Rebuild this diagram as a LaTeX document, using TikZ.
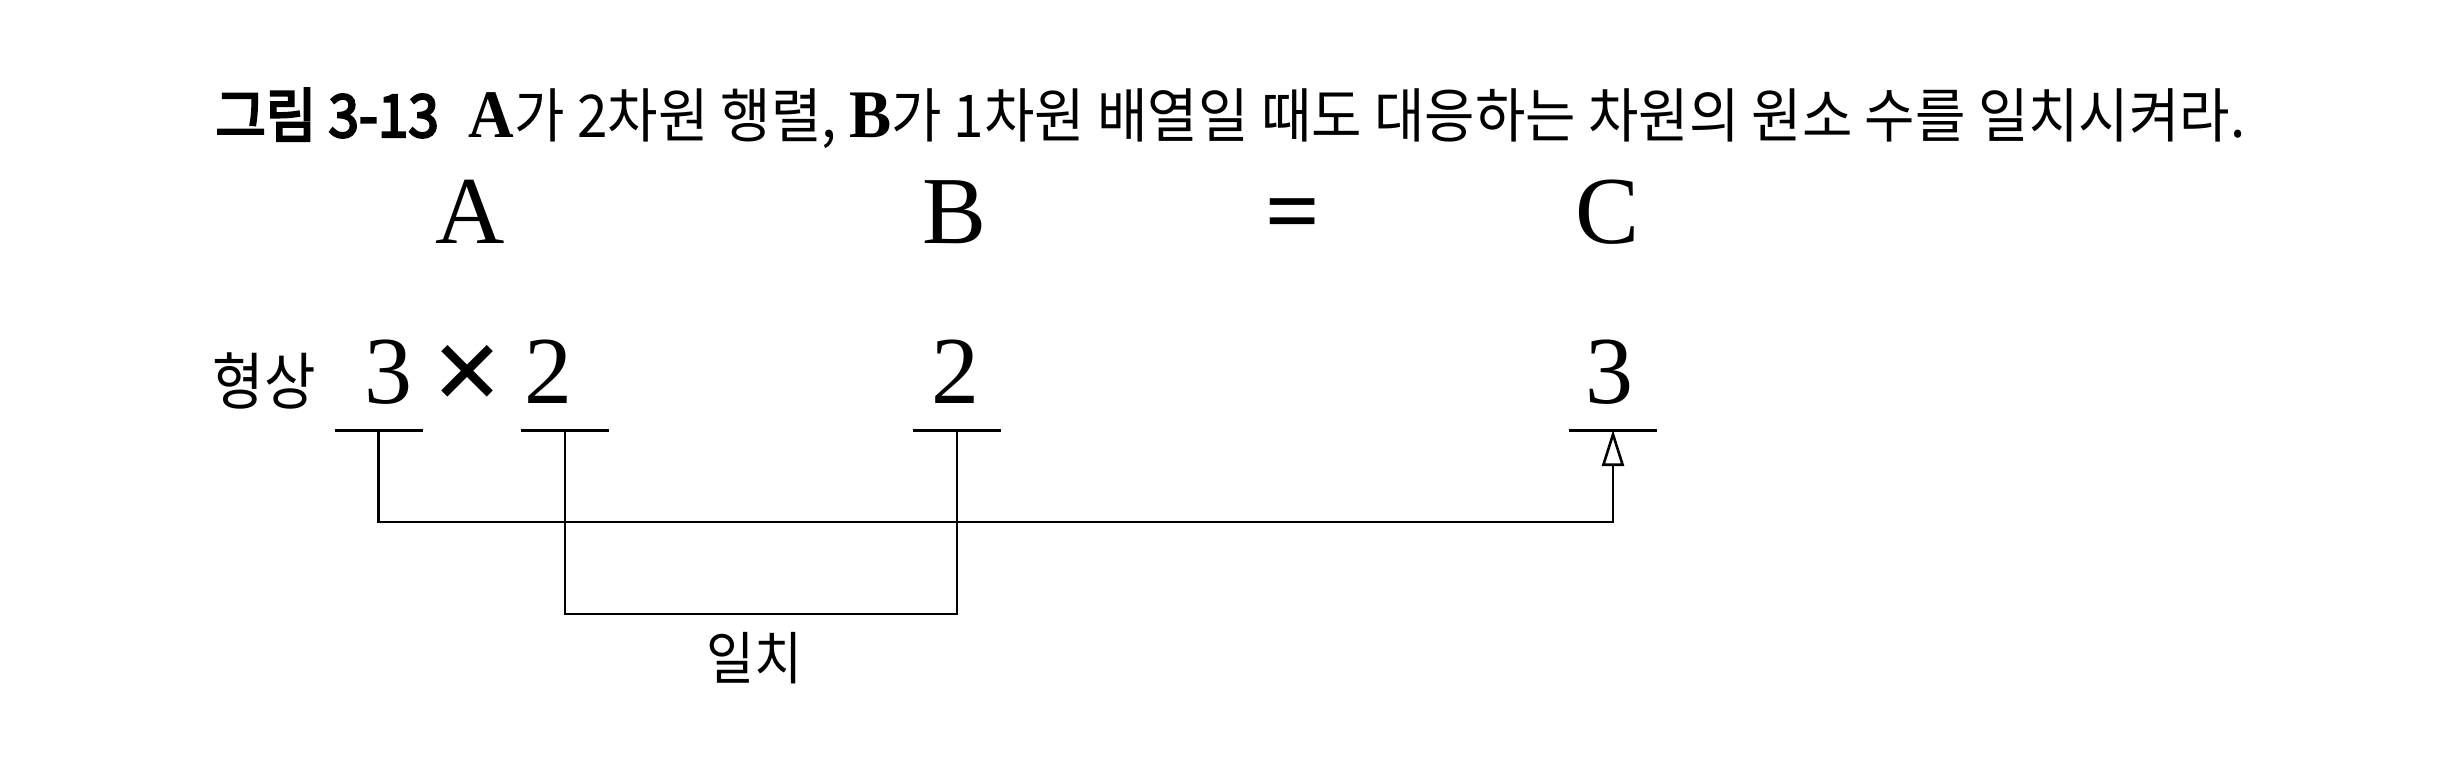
\documentclass[tikz,border=0pt]{standalone}
\usepackage{fontspec}
\usepackage{graphicx}
\setmainfont{Liberation Serif}
\newfontfamily\kr{Noto Sans CJK KR}
\newfontfamily\krb{Noto Sans CJK KR}[FakeBold=4]
\usetikzlibrary{arrows.meta}
\begin{document}
\begin{tikzpicture}[x=0.5pt,y=-0.5pt,
  bigtxt/.style={inner sep=0pt, anchor=base, font=\fontsize{48pt}{50pt}\selectfont},
  krtxt/.style={inner sep=0pt, anchor=base},
  bar/.style={line width=1.5pt},
  conn/.style={line width=1.4pt},
  ]
\useasboundingbox (0,0) rectangle (2448,760);
% title
\node[inner sep=0pt, anchor=base west] (title) at (215,137)
  {\resizebox{1015pt}{\height}{\fontsize{29.5pt}{31pt}\selectfont{\krb 그림 3-13}\hspace{0.55em}{\fontsize{34pt}{34pt}\selectfont\bfseries A}{\kr 가 2차원 행렬, }{\fontsize{34pt}{34pt}\selectfont\bfseries B}{\kr 가 1차원 배열일 때도 대응하는 차원의 원소 수를 일치시켜라.}}};
% matrices
\node[bigtxt] (nA) at (470,243) {A};
\node[bigtxt] (nB) at (955,243) {B};
\node[bigtxt, font=\fontsize{48pt}{50pt}\selectfont\bfseries] (eq) at (1293,243) {=};
\node[bigtxt] (nC) at (1607,243) {C};
% shapes
\node[krtxt] (shape) at (264,404) {\resizebox{51.5pt}{\height}{\kr\fontsize{31pt}{32pt}\selectfont 형상}};
\node[bigtxt] (d3) at (388,403) {3};
\node[bigtxt, font=\fontsize{62pt}{64pt}\selectfont\bfseries] (mul) at (468,412) {×};
\node[bigtxt] (d2) at (548,403) {2};
\node[bigtxt] (e2) at (955,403) {2};
\node[bigtxt] (f3) at (1609,403) {3};
% bars
\coordinate (u1) at (378.5,430);
\coordinate (u2) at (565,430);
\coordinate (u3) at (957,430);
\coordinate (u4) at (1613,430);
\foreach \u in {u1,u2,u3,u4}
  \draw[bar] ([xshift=-22pt]\u) -- ([xshift=22pt]\u);
% connectors
\draw[conn, -{Triangle[open, length=18pt, width=11pt, line width=1.3pt]}] (u1) -- ++(0,92) -| (u4);
\draw[conn] (u2) -- ++(0,184) -| (u3);
\node[krtxt] (match) at (754,679) {\resizebox{48pt}{\height}{\kr\fontsize{28.5pt}{30pt}\selectfont 일치}};
\end{tikzpicture}
\end{document}
